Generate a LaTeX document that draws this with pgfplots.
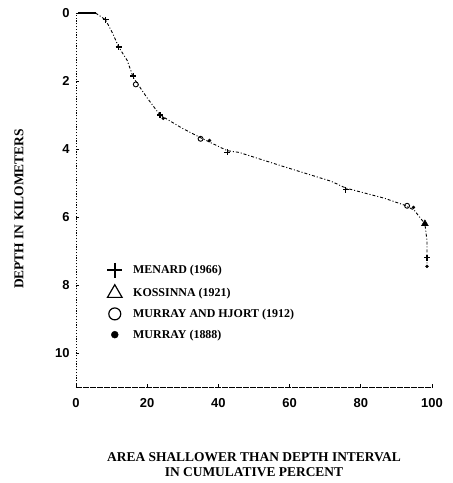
\documentclass[border=0pt]{standalone}
\usepackage{fontspec}
\setmainfont{Liberation Serif}
\newfontfamily\ticksf{Liberation Sans}
\usepackage{pgfplots}
\pgfplotsset{compat=1.18}
\begin{document}
\begin{tikzpicture}
\begin{axis}[name=ax, scale only axis, width=356bp, height=374bp,
 xmin=0, xmax=100, ymin=-11, ymax=0, clip=false,
 axis x line=bottom, axis y line=left,
 x axis line style={-, line width=0.8pt, dash pattern=on 6pt off 1pt},
 y axis line style={-, line width=0.9pt, dash pattern=on 1.2pt off 1.6pt},
 xtick={0,20,40,60,80,100}, ytick={-10,-8,-6,-4,-2,0}, yticklabels={10,8,6,4,2,0},
 tick align=inside, major tick length=3pt, tick style={black, line width=0.8pt},
 /pgf/number format/assume math mode=true,
 ticklabel style={font=\ticksf\bfseries\fontsize{13}{13}\selectfont},
 xticklabel style={yshift=-8pt}, yticklabel style={xshift=-3pt},
 xlabel={AREA SHALLOWER THAN DEPTH INTERVAL\\IN CUMULATIVE PERCENT},
 xlabel style={at={(axis description cs:0.5,-0.2086)}, anchor=center, align=center, font=\bfseries\fontsize{13.5}{15}\selectfont},
 ylabel={DEPTH IN KILOMETERS},
 ylabel style={at={(axis description cs:-0.16,0.476)}, anchor=center, font=\bfseries\fontsize{13.5}{15}\selectfont},
 legend style={at={(axis description cs:0.079,0.338)}, anchor=north west, draw=none, fill=none, font=\bfseries\fontsize{12}{13}\selectfont, row sep=7pt, column sep=9pt},
 legend cell align=left,
]
% top solid segment
\addplot[forget plot, black, line width=1.4pt] coordinates {(0.5,0) (5.5,0)};
% hypsometric curve
\addplot[forget plot, black, line width=0.9pt, dash pattern=on 3pt off 2pt on 1pt off 2pt] coordinates {
 (5.5,0) (8.3,-0.2) (10.3,-0.6) (12,-1.0) (14.4,-1.4) (16.1,-1.9) (20,-2.5) (23.6,-3.0)
 (30,-3.4) (35.6,-3.7) (42.5,-4.05) (45.8,-4.1) (57.8,-4.5) (71.7,-4.95) (75.8,-5.15)
 (86.7,-5.45) (92.2,-5.65) (95,-5.8) (98,-6.2) (98.6,-6.7) (98.6,-7.2) (98.6,-7.45)};
% Menard
\addplot[forget plot, only marks, mark=+, mark size=3pt, line width=1.3pt] coordinates {
 (8.3,-0.2) (12,-1.0) (16.1,-1.85) (23.6,-3.0) (42.5,-4.1) (75.8,-5.2) (98.6,-7.2)};
% Kossinna
\addplot[forget plot, only marks, mark=triangle*, mark size=4pt] coordinates {(98,-6.2)};
% Murray and Hjort
\addplot[forget plot, only marks, mark=o, mark size=2.5pt, line width=0.9pt] coordinates {
 (93,-5.67) (35,-3.7) (16.8,-2.1)};
% Murray
\addplot[forget plot, only marks, mark=*, mark size=1.5pt] coordinates {
 (94.8,-5.72) (37.5,-3.75) (98.6,-7.45) (24.5,-3.1)};
\addlegendimage{only marks, black, mark=+, mark size=7.5pt, line width=1.6pt}
\addlegendentry{MENARD (1966)}
\addlegendimage{only marks, black, mark=triangle, mark size=8.5pt, line width=1.2pt}
\addlegendentry{KOSSINNA (1921)}
\addlegendimage{only marks, black, mark=o, mark size=6pt, line width=1.2pt}
\addlegendentry{MURRAY AND HJORT (1912)}
\addlegendimage{only marks, black, mark=*, mark size=3.5pt}
\addlegendentry{MURRAY (1888)}
\end{axis}
\pgfresetboundingbox
\path ([shift={(-76bp,-96bp)}]ax.south west) rectangle ([shift={(21bp,13bp)}]ax.north east);
\end{tikzpicture}
\end{document}
